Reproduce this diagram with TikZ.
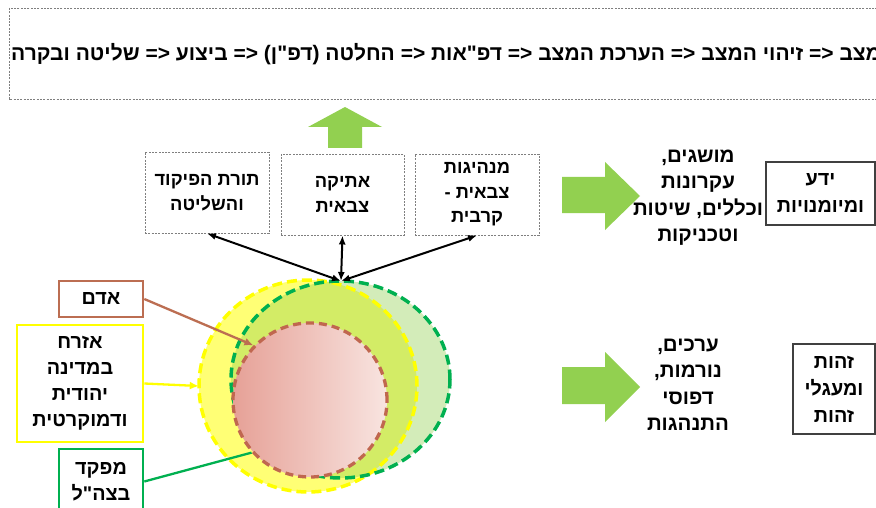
\documentclass[tikz,border=0pt]{standalone}
\usepackage{fontspec}
\setmainfont{Liberation Sans}
\newfontfamily\heb[Script=Hebrew]{Liberation Sans}
\TeXXeTstate=1
\usetikzlibrary{shapes.geometric,arrows.meta}
\newcommand\hbl[1]{\beginR #1\endR}
\newcommand\cmm{\mbox{,}}
\definecolor{dgray}{HTML}{7F7F7F}
\definecolor{bgreen}{HTML}{92D050}
\definecolor{yfillc}{HTML}{FFFF75}
\definecolor{ydash}{HTML}{FFFF00}
\definecolor{gdash}{HTML}{00B050}
\definecolor{pinkL}{HTML}{E6A197}
\definecolor{pinkR}{HTML}{F8E4E0}
\definecolor{pinkline}{HTML}{C0674F}
\definecolor{adamc}{HTML}{BC6E52}
\definecolor{sgray}{HTML}{404040}
\tikzset{
  dbox/.style={draw=dgray, dash pattern=on 2pt off 1.3pt, line width=0.9pt, inner sep=0pt, align=center,
    font=\heb\bfseries\fontsize{18.3}{24.5}\selectfont},
  lbox/.style={line width=2.6pt, inner sep=0pt, align=center, fill=white,
    font=\heb\bfseries\fontsize{19.8}{26}\selectfont},
  sbox/.style={draw=sgray, line width=1.2pt, inner sep=0pt, align=center, fill=white,
    font=\heb\bfseries\fontsize{19.8}{27}\selectfont},
  rtext/.style={align=center, inner sep=0pt, font=\heb\bfseries\fontsize{20.5}{26.5}\selectfont},
  dbl/.style={{Latex[length=9pt,width=7pt]}-{Latex[length=9pt,width=7pt]}, line width=2pt, black},
  onearr/.style={-{Latex[length=9pt,width=8pt]}, line width=2.3pt},
  bigdash/.style={line width=3.5pt, dash pattern=on 10pt off 5pt},
}
\begin{document}
\begin{tikzpicture}[x=1pt,y=-1pt]
\useasboundingbox (0,0) rectangle (876,508);
\clip (0,0) rectangle (876,508);
\fill[white] (0,0) rectangle (876,508);

% top box
\draw[draw=dgray, dash pattern=on 2pt off 1.3pt, line width=0.9pt] (9,8) rectangle (900,99);
\node[anchor=west, inner sep=0pt, font=\heb\bfseries\fontsize{21}{24}\selectfont]
  (top) at (11,54)
  {\hbl{מצב <= זיהוי המצב <= הערכת המצב <= דפ"אות <= החלטה (דפ"ן) <= ביצוע <= שליטה ובקרה}};

% up arrow
\fill[bgreen] (328,148) -- (328,127) -- (308,127) -- (345,107) -- (382,127) -- (362,127) -- (362,148) -- cycle;

% three dashed boxes
\node[dbox, minimum width=124pt, minimum height=81pt] (b1) at (207,192.5)
  {\hbl{תורת הפיקוד}\\\hbl{והשליטה}};
\node[dbox, minimum width=123pt, minimum height=81pt] (b2) at (342.5,194.5)
  {\hbl{אתיקה}\\\hbl{צבאית}};
\node[dbox, minimum width=124pt, minimum height=81pt] (b3) at (477,194.5)
  {\hbl{מנהיגות}\\\hbl{צבאית -}\\\hbl{קרבית}};

% circles
\node[ellipse, minimum width=218pt, minimum height=212pt, inner sep=0pt, fill=yfillc] (yel) at (308,386) {};
\node[ellipse, minimum width=219pt, minimum height=197pt, inner sep=0pt, fill=bgreen, fill opacity=0.4] (grn) at (340.5,379.5) {};
\node[ellipse, minimum width=218pt, minimum height=212pt, inner sep=0pt, draw=ydash, bigdash] (yelb) at (yel.center) {};
\node[ellipse, minimum width=219pt, minimum height=197pt, inner sep=0pt, draw=gdash, bigdash] (grnb) at (grn.center) {};
\node[circle, minimum size=154pt, inner sep=0pt, left color=pinkL, right color=pinkR,
  draw=pinkline, line width=3.3pt, dash pattern=on 8pt off 5pt] (pink) at (310,400) {};

\coordinate (meet) at (341,281);
\draw[dbl] (b1.south) -- (meet);
\draw[dbl] (b2.south) -- (meet);
\draw[dbl] (b3.south) -- (meet);

% left labels
\node[lbox, draw=adamc, minimum width=84pt, minimum height=36pt] (adam) at (101,299) {\hbl{אדם}};
\node[lbox, draw=ydash, minimum width=126pt, minimum height=117pt] (cit) at (80,383.5)
  {\hbl{אזרח}\\\hbl{במדינה}\\\hbl{יהודית}\\\hbl{ודמוקרטית}};
\node[lbox, draw=gdash, minimum width=84pt, minimum height=65pt] (cmd) at (101,481.5)
  {\hbl{מפקד}\\\hbl{בצה"ל}};

\draw[onearr, adamc] (adam.east) -- (pink.136);
\draw[onearr, ydash] (cit.east) -- (yel.west);
\draw[line width=2.3pt, gdash] (cmd.east) -- (pink.222);

% right block arrows
\fill[bgreen] (562,177) -- (605,177) -- (605,162) -- (640,196) -- (605,230) -- (605,213) -- (562,213) -- cycle;
\fill[bgreen] (562,367) -- (605,367) -- (605,352) -- (640,387) -- (605,422) -- (605,404) -- (562,404) -- cycle;

% right texts
\node[rtext] (t1) at (698,197.5)
  {\hbl{מושגים\cmm}\\\hbl{עקרונות}\\\hbl{וכללים\cmm{} שיטות}\\\hbl{וטכניקות}};
\node[rtext] (t2) at (688,385)
  {\hbl{ערכים\cmm}\\\hbl{נורמות\cmm}\\\hbl{דפוסי}\\\hbl{התנהגות}};

\node[sbox, minimum width=109pt, minimum height=63pt] (know) at (820.5,193.5)
  {\hbl{ידע}\\\hbl{ומיומנויות}};
\node[sbox, minimum width=82pt, minimum height=90pt] (ident) at (834,389)
  {\hbl{זהות}\\\hbl{ומעגלי}\\\hbl{זהות}};
\end{tikzpicture}
\end{document}
